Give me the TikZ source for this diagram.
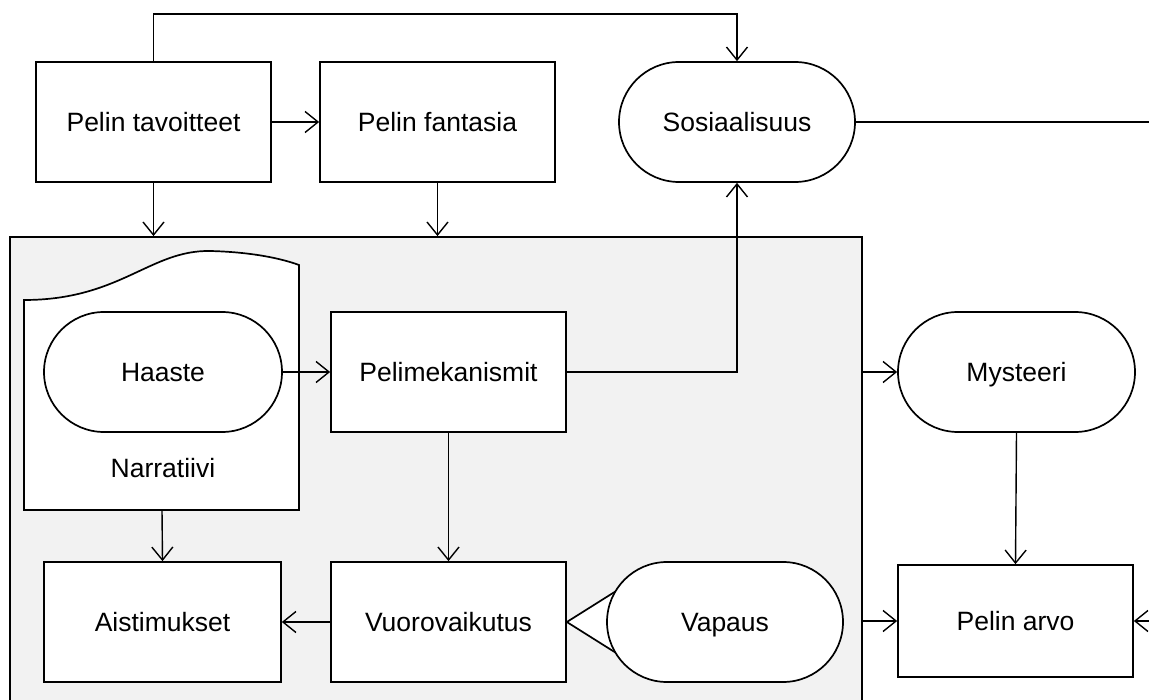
\documentclass[tikz,border=0pt]{standalone}
\usepackage{fontspec}
\setmainfont{Liberation Sans}
\usetikzlibrary{arrows.meta}
\definecolor{panelgray}{HTML}{F2F2F2}
\begin{document}
\begin{tikzpicture}[x=1pt,y=-1pt,
  label/.style={font=\fontsize{26.5}{30}\selectfont, text height=19pt, text depth=0pt},
  box/.style={label, draw, fill=white, line width=1.7pt, minimum width=235pt,
    minimum height=120pt, inner sep=0pt},
  pill/.style={box, rounded corners=60pt},
  conn/.style={line width=1.4pt,
    -{Straight Barb[length=13pt,width=21pt,line width=1.4pt]}},
  plain/.style={line width=1.4pt}]
\useasboundingbox (0,0) rectangle (1149,700);

% grey frame holding the game's inner elements
\node[draw, fill=panelgray, line width=1.8pt, minimum width=852pt,
  minimum height=480pt, inner sep=0pt] (panel) at (436,477) {};

% narrative document shape with wavy top
\draw[fill=white, line width=1.7pt, line join=miter]
  (24,300) .. controls (120,300) and (150,250) .. (210,251)
  .. controls (250,252) and (280,258) .. (299,265)
  -- (299,510) -- (24,510) -- cycle;
\coordinate (narb) at (162,510);
\node[label] (nartext) at (163,468) {Narratiivi};

% top row
\node[box] (tav) at (153.5,122) {Pelin tavoitteet};
\node[box] (fan) at (437.5,122) {Pelin fantasia};
\node[pill, minimum width=236pt] (sos) at (737,122) {Sosiaalisuus};

% inside the frame
\node[pill, minimum width=238pt] (haa) at (163,372) {Haaste};
\node[box] (pm) at (448.5,372) {Pelimekanismit};
\node[box, minimum width=237pt] (ais) at (162.5,622) {Aistimukset};
\node[box] (vu) at (448.5,622) {Vuorovaikutus};
\draw[fill=white, line width=1.7pt, line join=miter]
  (vu.east) -- (640,576) -- (640,668) -- cycle;
\node[pill, minimum width=236pt] (vap) at (725,622) {Vapaus};

% right column
\node[pill, minimum width=237pt] (mys) at (1016.5,372) {Mysteeri};
\node[box, minimum height=112pt] (arvo) at (1015.5,621) {Pelin arvo};

% loose ends at the right border
\coordinate (rt) at (1149,122);
\coordinate (rb) at (1149,621);

% connectors
\draw[conn] (tav.east) -- (fan.west);
\draw[conn] (tav.north) -- ++(0,-47) -| (sos.north);
\draw[conn] (tav.south) -- (tav.south |- panel.north);
\draw[conn] (fan.south) -- (fan.south |- panel.north);
\draw[plain] (sos.east) -- (rt);
\draw[conn] (haa.east) -- (pm.west);
\draw[conn] (pm.east) -| (sos.south);
\draw[conn] (pm.south) -- (vu.north);
\draw[conn] (narb) -- (ais.north);
\draw[conn] (vu.west) -- (ais.east);
\draw[conn] (panel.east |- mys.west) -- (mys.west);
\draw[conn] (panel.east |- arvo.west) -- (arvo.west);
\draw[conn] (mys.south) -- (arvo.north);
\draw[conn] (rb) -- (arvo.east);
\end{tikzpicture}
\end{document}
